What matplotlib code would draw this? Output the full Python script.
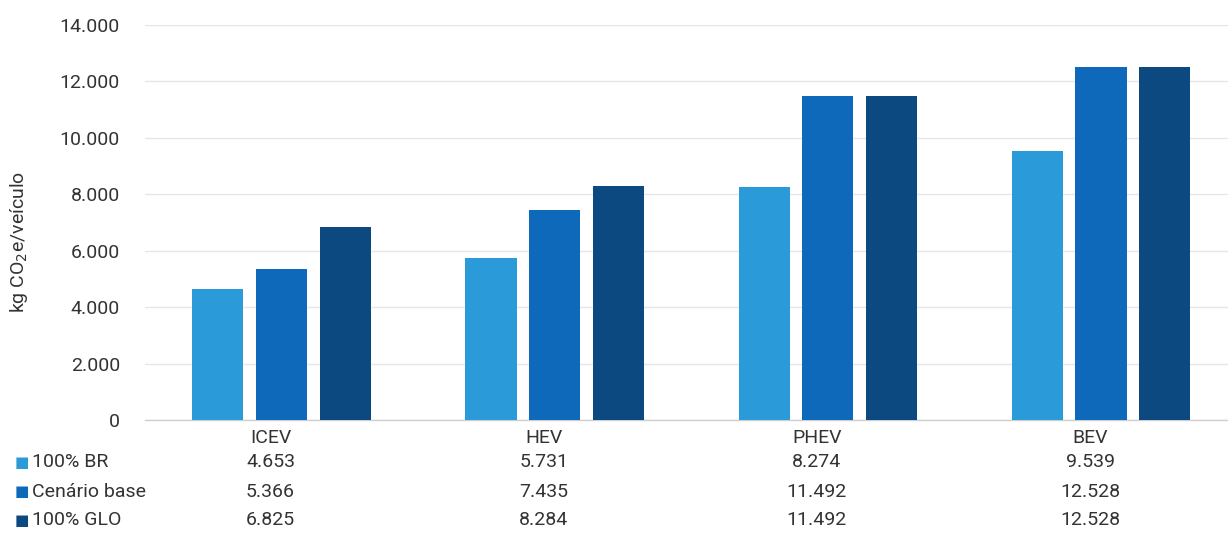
import numpy as np
import matplotlib.pyplot as plt
from matplotlib import font_manager
from matplotlib.transforms import blended_transform_factory

# Emissions per vehicle (kg CO2e) by powertrain and electricity scenario
categories = ['ICEV', 'HEV', 'PHEV', 'BEV']
series_names = ['100% BR', 'Cenário base', '100% GLO']
br_100 = [4653, 5731, 8274, 9539]
cenario_base = [5366, 7435, 11492, 12528]
glo_100 = [6825, 8284, 11492, 12528]
y_ticks = [0, 2000, 4000, 6000, 8000, 10000, 12000, 14000]

colors = ['#2a9ad8', '#0f69bb', '#0b4980']

names = {f.name for f in font_manager.fontManager.ttflist}
family = 'Liberation Sans Narrow' if 'Liberation Sans Narrow' in names else 'Roboto'
plt.rcParams['font.family'] = [family, 'DejaVu Sans']

text_color = '#333333'


def fmt(v):
    return f'{v:,}'.replace(',', '.')


fig = plt.figure(figsize=(12.28, 5.33), dpi=100)
ax = fig.add_axes([0.118, 0.212, 0.882, 0.741])

x = np.arange(len(categories))
width = 0.187
offset = 0.233
all_series = [br_100, cenario_base, glo_100]
for i, (vals, col) in enumerate(zip(all_series, colors)):
    ax.bar(x + (i - 1) * offset, vals, width=width, color=col, zorder=3)

ax.set_xlim(-0.5, 3.465)
ax.set_ylim(0, 14000)
ax.set_yticks(y_ticks)
ax.set_yticklabels([fmt(v) for v in y_ticks], fontsize=14, color=text_color)
ax.set_xticks([])
ax.tick_params(axis='y', length=0, pad=18)
ax.grid(axis='y', color='#e6e6e6', linewidth=1.0, zorder=0)
for side in ['top', 'right', 'left']:
    ax.spines[side].set_visible(False)
ax.spines['bottom'].set_color('#cfcfcf')
ax.spines['bottom'].set_linewidth(1.0)

ax.set_ylabel('kg CO$_2$e/veículo', fontsize=14, color=text_color)
ax.yaxis.set_label_coords(-0.106, 0.45)

# data table under the axis (columns sit a bit left of the bar groups)
trans = blended_transform_factory(ax.transData, fig.transFigure)
col_shift = -0.04
row_y = [0.178, 0.133, 0.077, 0.024]
for xi, cat in zip(x, categories):
    ax.text(xi + col_shift, row_y[0], cat, transform=trans, ha='center',
            va='center', fontsize=14, color=text_color)
for r, (name, vals, col) in enumerate(zip(series_names, all_series, colors)):
    yy = row_y[r + 1]
    fig.text(0.012, yy, '\u25a0', color=col, fontsize=11, ha='left', va='center',
             family='DejaVu Sans')
    fig.text(0.026, yy, name, color=text_color, fontsize=14, ha='left', va='center')
    for xi, v in zip(x, vals):
        ax.text(xi + col_shift, yy, fmt(v), transform=trans, ha='center',
                va='center', fontsize=14, color=text_color)

fig.savefig('out.png', dpi=100, facecolor='white')
